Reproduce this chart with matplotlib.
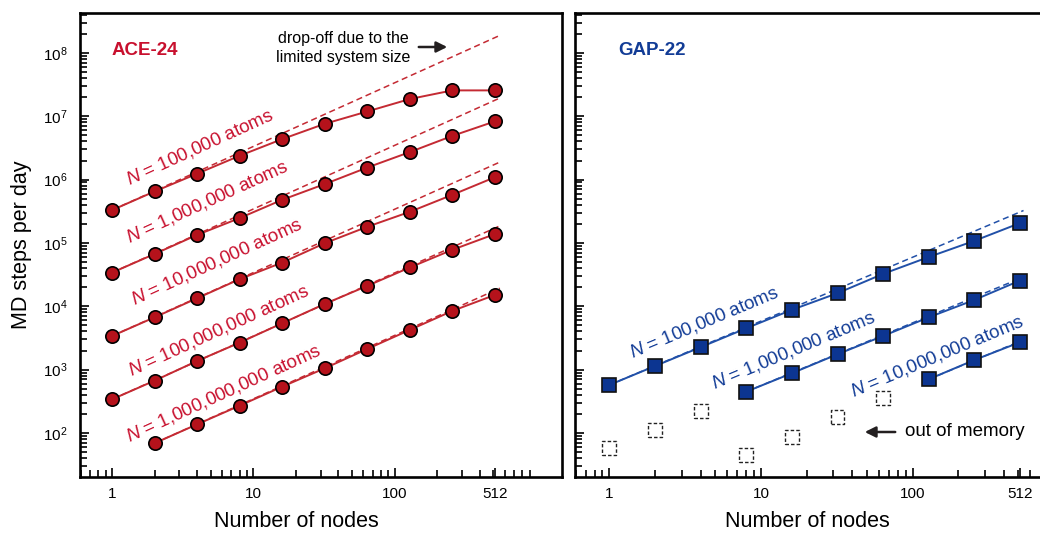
import matplotlib
matplotlib.use("Agg")
import matplotlib.pyplot as plt
import numpy as np

plt.rcParams['font.family'] = ['Liberation Sans', 'DejaVu Sans']
plt.rcParams['mathtext.fontset'] = 'custom'
plt.rcParams['mathtext.rm'] = 'Liberation Sans'
plt.rcParams['mathtext.it'] = 'Liberation Sans:italic'

# ---------------- data ----------------
nodes = [1, 2, 4, 8, 16, 32, 64, 128, 256, 512]

ace_labels = ["N = 100,000 atoms", "N = 1,000,000 atoms", "N = 10,000,000 atoms",
              "N = 100,000,000 atoms", "N = 1,000,000,000 atoms"]
ace_100k = [3.3e5, 6.5e5, 1.24e6, 2.38e6, 4.36e6, 7.6e6, 1.19e7, 1.87e7, 2.56e7, 2.56e7]
ace_1m = [3.4e4, 6.7e4, 1.34e5, 2.47e5, 4.8e5, 8.5e5, 1.55e6, 2.72e6, 4.9e6, 8.3e6]
ace_10m = [3.4e3, 6.7e3, 1.34e4, 2.68e4, 4.9e4, 9.9e4, 1.8e5, 3.1e5, 5.75e5, 1.09e6]
ace_100m = [340, 670, 1.37e3, 2.67e3, 5.4e3, 1.09e4, 2.1e4, 4.1e4, 7.8e4, 1.38e5]
ace_1b_nodes = [2, 4, 8, 16, 32, 64, 128, 256, 512]
ace_1b = [69, 137, 270, 538, 1.05e3, 2.12e3, 4.24e3, 8.45e3, 1.51e4]
# ideal-scaling (dashed) line end values at x = 555
ace_ideal_end_x = 555
ace_ideal_end = [1.89e8, 1.94e7, 1.89e6, 1.86e5, 1.93e4]

gap_labels = ["N = 100,000 atoms", "N = 1,000,000 atoms", "N = 10,000,000 atoms"]
gap_100k = [573, 1.14e3, 2.26e3, 4.5e3, 8.8e3, 1.61e4, 3.25e4, 6.0e4, 1.08e5, 2.06e5]
gap_1m_nodes = [8, 16, 32, 64, 128, 256, 512]
gap_1m = [449, 877, 1.75e3, 3.4e3, 6.7e3, 1.26e4, 2.55e4]
gap_10m_nodes = [128, 256, 512]
gap_10m = [705, 1.42e3, 2.71e3]
gap_ideal_end_x = 540
gap_ideal_end = [3.25e5, 2.9e4, 2.95e3]
# out-of-memory placeholders
oom_nodes = [1, 2, 4, 8, 16, 32, 64]
oom_vals = [57, 111, 225, 45, 87, 181, 353]

# ---------------- style ----------------
RED_FACE = '#b5121b'
RED_LINE = '#c42a33'
RED_TEXT = '#c8102e'
BLUE_FACE = '#0c3591'
BLUE_LINE = '#2150a8'
BLUE_TEXT = '#123c96'

W, H = 1040, 534
fig = plt.figure(figsize=(W / 100, H / 100), dpi=100)

def px_axes(x0, x1, y0, y1):
    return fig.add_axes([x0 / W, 1 - y1 / H, (x1 - x0) / W, (y1 - y0) / H])

axL = px_axes(80, 562, 13, 477)
axR = px_axes(575, 1092, 13, 477)

XLIM = (0.593, 1528)
YLIM = (10 ** 1.305, 10 ** 8.63)

for ax in (axL, axR):
    ax.set_xscale('log')
    ax.set_yscale('log')
    ax.set_xlim(*XLIM)
    ax.set_ylim(*YLIM)
    for s in ax.spines.values():
        s.set_linewidth(1.9)
    ax.tick_params(which='both', direction='in', top=False, right=False,
                   width=1.2, labelsize=11)
    ax.tick_params(which='major', length=6.5)
    ax.tick_params(which='minor', length=5)
    ax.tick_params(axis='x', pad=7)
    ax.tick_params(axis='y', pad=9)
    ax.set_xticks([1, 10, 100, 512])
    ax.set_xticklabels(['1', '10', '100', '512'])
    ax.set_xlabel('Number of nodes', fontsize=15.5)
    ax.xaxis.set_label_coords(0.449, -0.073)

axL.set_yticks([10.0 ** k for k in range(2, 9)])
axL.set_yticklabels([r'$\mathregular{10^{%d}}$' % k for k in range(2, 9)])
axL.set_ylabel('MD steps per day', fontsize=15.5)
axL.yaxis.set_label_coords(-0.1, 0.5)
axR.set_yticks([10.0 ** k for k in range(2, 9)])
axR.set_yticklabels([])

# ---------------- ACE panel ----------------
ace_series = [(nodes, ace_100k), (nodes, ace_1m), (nodes, ace_10m),
              (nodes, ace_100m), (ace_1b_nodes, ace_1b)]
for (xs, ys), yend in zip(ace_series, ace_ideal_end):
    axL.plot([xs[0], ace_ideal_end_x], [ys[0], yend], ls=(0, (4, 2.5)),
             color=RED_LINE, lw=1.1, zorder=2)
    axL.plot(xs, ys, '-', color=RED_LINE, lw=1.4, zorder=3)
    axL.plot(xs, ys, 'o', ms=9.6, mfc=RED_FACE, mec='black', mew=1.2, zorder=4)

ace_label_pos = [(4.2, 3.3e6), (4.7, 4.5e5), (5.5, 5.0e4), (5.65, 4.2e3), (6.2, 428)]
for lab, (lx, ly) in zip(ace_labels, ace_label_pos):
    axL.text(lx, ly, '$\\mathit{N}$' + lab[1:], color=RED_TEXT, fontsize=13.5,
             rotation=24.5, ha='center', va='center', rotation_mode='anchor')

axL.text(0.066, 0.92, 'ACE-24', transform=axL.transAxes, color=RED_TEXT,
         fontsize=13.5, fontweight='bold', ha='left', va='center')
fig.text(343 / W, 1 - 48 / H, 'drop-off due to the\nlimited system size',
         fontsize=11.5, ha='center', va='center', linespacing=1.35)
axL.annotate('', xy=(450, H - 47), xytext=(416, H - 47), xycoords='figure pixels',
             textcoords='figure pixels',
             arrowprops=dict(arrowstyle='-|>', color='#231f20', lw=1.8,
                             mutation_scale=16))

# ---------------- GAP panel ----------------
gap_series = [(nodes, gap_100k), (gap_1m_nodes, gap_1m), (gap_10m_nodes, gap_10m)]
for (xs, ys), yend in zip(gap_series, gap_ideal_end):
    axR.plot([xs[0], gap_ideal_end_x], [ys[0], yend], ls=(0, (4, 2.5)),
             color=BLUE_LINE, lw=1.1, zorder=2)
    axR.plot(xs, ys, '-', color=BLUE_LINE, lw=1.4, zorder=3)
    axR.plot(xs, ys, 's', ms=9.6, mfc=BLUE_FACE, mec='#111111', mew=1.2, zorder=4)

axR.scatter(oom_nodes, oom_vals, marker='s', s=100, facecolors='white',
            edgecolors='#222222', linewidths=1.0, linestyles=(0, (2.5, 1.5)),
            zorder=4)

gap_label_pos = [(4.2, 5.5e3), (16.4, 2.05e3), (146, 1.64e3)]
for lab, (lx, ly) in zip(gap_labels, gap_label_pos):
    axR.text(lx, ly, '$\\mathit{N}$' + lab[1:], color=BLUE_TEXT, fontsize=13.5,
             rotation=22.7, ha='center', va='center', rotation_mode='anchor')

axR.text(0.083, 0.92, 'GAP-22', transform=axR.transAxes, color=BLUE_TEXT,
         fontsize=13.5, fontweight='bold', ha='left', va='center')
fig.text(905 / W, 1 - 432 / H, 'out of memory', fontsize=13.5, ha='left', va='center')
axR.annotate('', xy=(862, H - 432), xytext=(898, H - 432), xycoords='figure pixels',
             textcoords='figure pixels',
             arrowprops=dict(arrowstyle='-|>', color='#231f20', lw=1.8,
                             mutation_scale=16))

fig.savefig('out.png', dpi=100)
